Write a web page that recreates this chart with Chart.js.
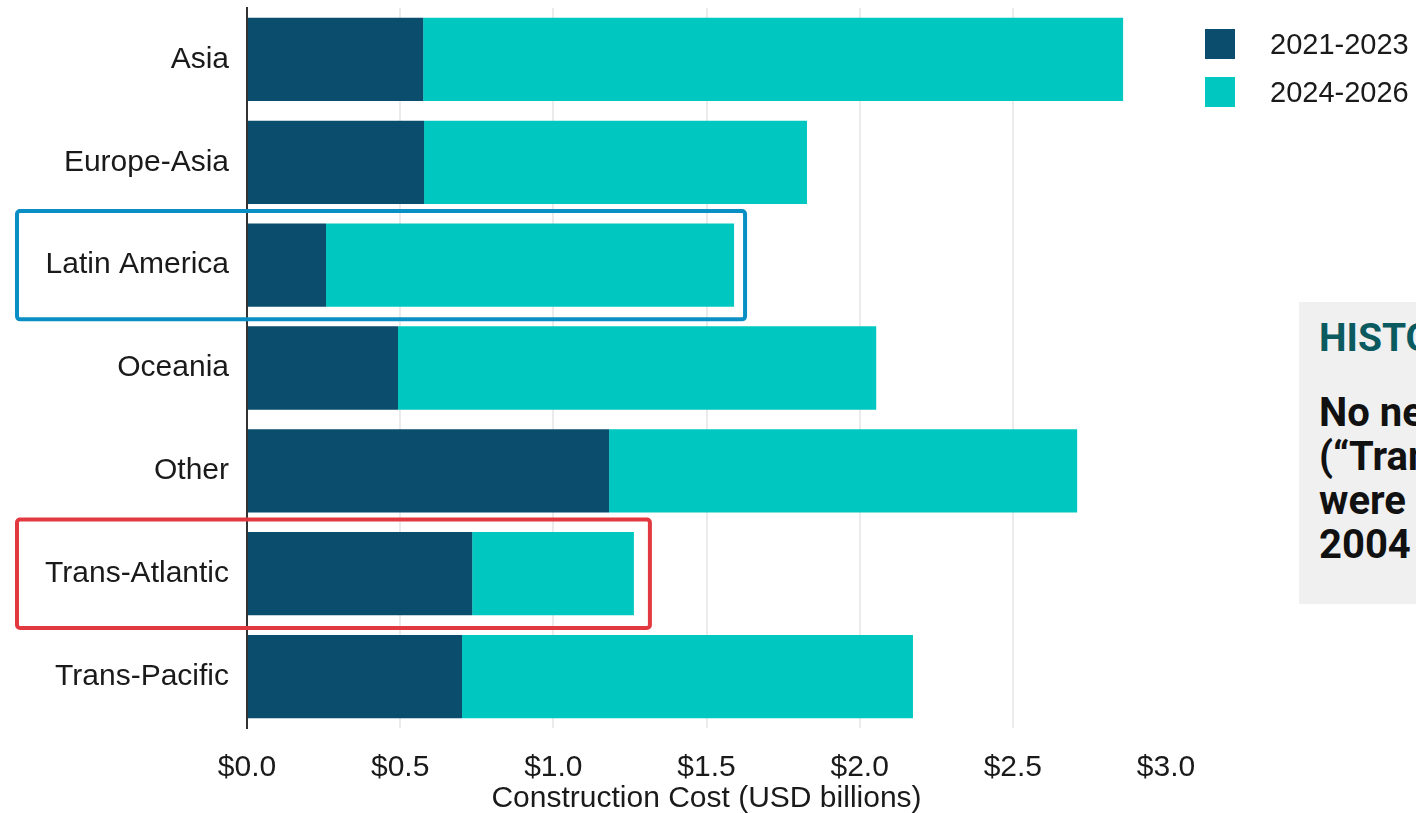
<!DOCTYPE html>
<html>
<head>
<meta charset="utf-8">
<script src="https://cdn.jsdelivr.net/npm/chart.js@4.4.1/dist/chart.umd.min.js"></script>
<style>
  html, body { margin: 0; padding: 0; background: #fff; overflow: hidden; }
  #wrap { position: relative; width: 1416px; height: 813px; }
  #cost-chart { position: absolute; left: 0; top: 0; }
  .legend { position: absolute; left: 1205px; top: 29px; font-family: "Liberation Sans", Arial, sans-serif; font-size: 29px; color: #1a1a1a; }
  .legend-item { position: relative; height: 48px; }
  .legend-item .swatch { position: absolute; left: 0; top: 0; width: 30px; height: 30px; }
  .legend-item .txt { position: absolute; left: 65px; top: 0; line-height: 30px; white-space: nowrap; }
  .note { position: absolute; left: 1299px; top: 302px; width: 400px; height: 302px; background: #f0f0f0; font-family: Roboto, "Noto Sans", sans-serif; font-weight: 700; white-space: nowrap; }
  .note h3 { margin: 0; position: absolute; left: 20px; top: 14px; font-size: 39px; line-height: 44px; color: #0b5a60; }
  .note p { margin: 0; position: absolute; left: 20px; top: 89px; font-size: 40px; line-height: 44px; color: #111; }
</style>
</head>
<body>
<div id="wrap">
  <canvas id="cost-chart" width="1416" height="813"></canvas>
  <div class="legend" id="legend"></div>
  <div class="note">
    <h3>HISTORICAL CONTEXT</h3>
    <p>No new cables on the route<br>(“Trans-Atlantic”) since the<br>were deployed between<br>2004 and 2021.</p>
  </div>
</div>
<script>
// Données (milliards USD)
const regions = ['Asia', 'Europe-Asia', 'Latin America', 'Oceania', 'Other', 'Trans-Atlantic', 'Trans-Pacific'];
const periodLabels = ['2021-2023', '2024-2026'];
const cost2021_2023 = [0.575, 0.578, 0.258, 0.493, 1.182, 0.735, 0.702];
const cost2024_2026 = [2.285, 1.250, 1.332, 1.561, 1.528, 0.528, 1.472];
const xTicks = [0, 0.5, 1.0, 1.5, 2.0, 2.5, 3.0];

const colors = ['#0a4d6d', '#00c7bf'];

// Cadres de mise en évidence
const highlights = [
  { region: 'Latin America', color: '#0a8fc5', pad: 11 },
  { region: 'Trans-Atlantic', color: '#e1393f', pad: 16 }
];

const highlightPlugin = {
  id: 'highlightBoxes',
  afterDatasetsDraw(chart) {
    const { ctx, scales } = chart;
    const xs = scales.x, ys = scales.y;
    const band = ys.getPixelForValue(1) - ys.getPixelForValue(0);
    highlights.forEach(h => {
      const i = regions.indexOf(h.region);
      const total = cost2021_2023[i] + cost2024_2026[i];
      const cy = ys.getPixelForValue(i);
      const left = 17;
      const right = xs.getPixelForValue(total) + h.pad;
      const top = cy - band * 0.527;
      const bottom = cy + band * 0.527;
      ctx.save();
      ctx.strokeStyle = h.color;
      ctx.lineWidth = 4;
      ctx.beginPath();
      ctx.roundRect(left, top, right - left, bottom - top, 3);
      ctx.stroke();
      ctx.restore();
    });
  }
};

function initializeCostChart() {
  const chartElement = document.getElementById('cost-chart');
  const fontFamily = '"Liberation Sans", Arial, sans-serif';

  const chart = new Chart(chartElement, {
    type: 'bar',
    data: {
      labels: regions,
      datasets: [
        { label: periodLabels[0], data: cost2021_2023, backgroundColor: colors[0], borderWidth: 0 },
        { label: periodLabels[1], data: cost2024_2026, backgroundColor: colors[1], borderWidth: 0 }
      ]
    },
    options: {
      indexAxis: 'y',
      responsive: false,
      animation: false,
      layout: { padding: { top: 8, right: 250, bottom: 0, left: 0 } },
      datasets: { bar: { categoryPercentage: 1, barPercentage: 0.81 } },
      scales: {
        x: {
          stacked: true,
          min: 0,
          max: 3,
          afterBuildTicks: function(scale) {
            scale.ticks = xTicks.map(v => ({ value: v }));
          },
          afterFit: function(scale) { scale.height = 85; },
          grid: {
            drawTicks: false,
            lineWidth: 2,
            color: function(ctx) {
              return ctx.tick && ctx.tick.value === 3 ? 'rgba(0,0,0,0)' : '#ebebeb';
            }
          },
          border: { display: false },
          ticks: {
            padding: 22,
            color: '#1a1a1a',
            font: { family: fontFamily, size: 30 },
            callback: function(value) { return '$' + Number(value).toFixed(1); }
          },
          title: {
            display: true,
            text: 'Construction Cost (USD billions)',
            color: '#1a1a1a',
            font: { family: fontFamily, size: 30 },
            padding: { top: 0, bottom: -4 }
          }
        },
        y: {
          stacked: true,
          afterFit: function(scale) {
            scale.width = 247;
            scale.paddingTop = 0;
            scale.paddingBottom = 0;
          },
          grid: { display: false, drawTicks: false },
          border: { display: true, color: '#333333', width: 2 },
          ticks: {
            padding: 18,
            color: '#1a1a1a',
            font: { family: fontFamily, size: 30 }
          }
        }
      },
      plugins: {
        legend: { display: false },
        tooltip: { enabled: false }
      }
    },
    plugins: [highlightPlugin]
  });

  // Légende HTML
  const legend = document.getElementById('legend');
  chart.data.datasets.forEach(ds => {
    const item = document.createElement('div');
    item.className = 'legend-item';
    item.innerHTML = '<span class="swatch" style="background:' + ds.backgroundColor + '"></span><span class="txt">' + ds.label + '</span>';
    legend.appendChild(item);
  });
}

initializeCostChart();
</script>
</body>
</html>
